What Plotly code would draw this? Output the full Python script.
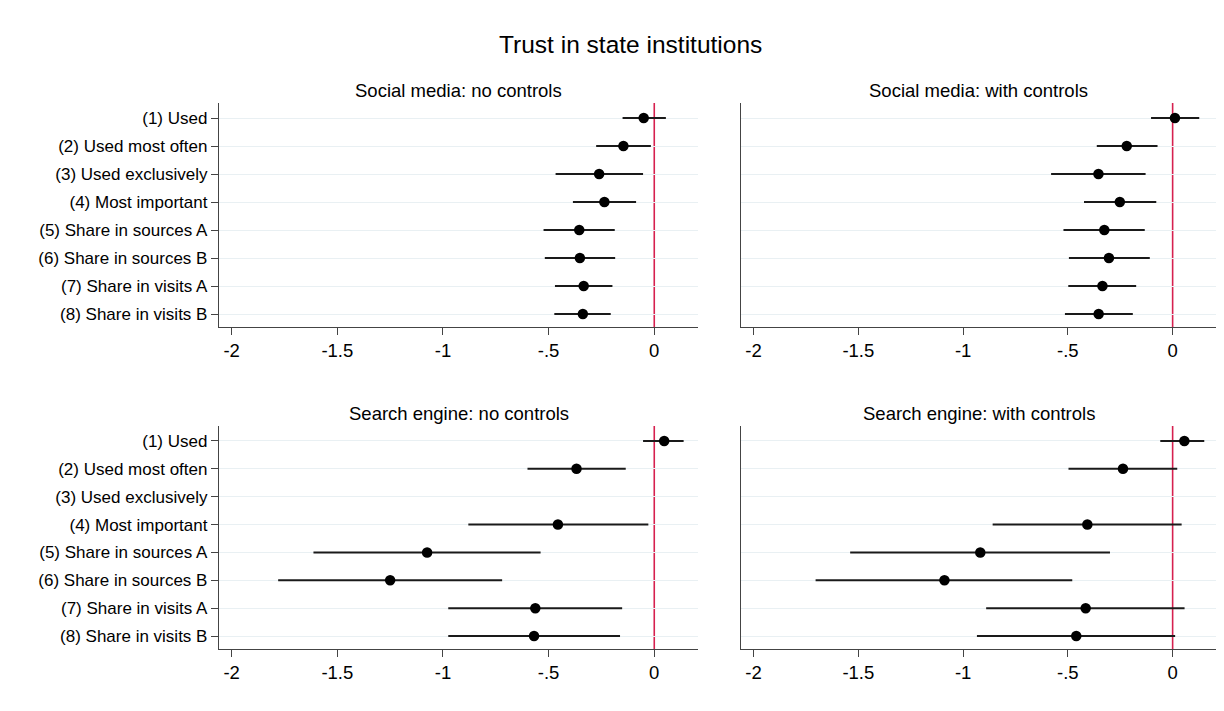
import plotly.graph_objects as go

# Outcome: trust in state institutions; coefficients with 95% confidence intervals
measures = [
    "(1) Used",
    "(2) Used most often",
    "(3) Used exclusively",
    "(4) Most important",
    "(5) Share in sources A",
    "(6) Share in sources B",
    "(7) Share in visits A",
    "(8) Share in visits B",
]
positions = [1, 2, 3, 4, 5, 6, 7, 8]

# Social media, no controls
sm_nc_coef = [-0.050, -0.146, -0.261, -0.236, -0.355, -0.352, -0.334, -0.338]
sm_nc_lo = [-0.150, -0.275, -0.467, -0.385, -0.524, -0.518, -0.470, -0.473]
sm_nc_hi = [0.055, -0.016, -0.053, -0.086, -0.187, -0.185, -0.198, -0.206]

# Social media, with controls
sm_wc_coef = [0.011, -0.219, -0.354, -0.252, -0.326, -0.304, -0.335, -0.353]
sm_wc_lo = [-0.103, -0.362, -0.580, -0.423, -0.521, -0.495, -0.498, -0.514]
sm_wc_hi = [0.127, -0.072, -0.129, -0.078, -0.133, -0.109, -0.174, -0.190]

# Search engine, no controls (no estimate for "used exclusively")
se_nc_coef = [0.047, -0.368, None, -0.456, -1.075, -1.250, -0.563, -0.569]
se_nc_lo = [-0.053, -0.600, None, -0.880, -1.613, -1.780, -0.975, -0.975]
se_nc_hi = [0.139, -0.135, None, -0.028, -0.538, -0.720, -0.152, -0.162]

# Search engine, with controls
se_wc_coef = [0.056, -0.237, None, -0.407, -0.918, -1.089, -0.415, -0.460]
se_wc_lo = [-0.059, -0.497, None, -0.859, -1.539, -1.704, -0.890, -0.934]
se_wc_hi = [0.151, 0.022, None, 0.043, -0.299, -0.479, 0.057, 0.012]

panel_titles = [
    "Social media: no controls",
    "Social media: with controls",
    "Search engine: no controls",
    "Search engine: with controls",
]
x_tickvals = [-2, -1.5, -1, -0.5, 0]
x_ticktext = ["-2", "-1.5", "-1", "-.5", "0"]

FONT = "Liberation Sans, Arial, sans-serif"
W, H = 1224, 711

# panel boxes in pixels: (left, right, top, bottom)
boxes = [
    (219, 698, 103, 327),
    (741, 1216, 103, 327),
    (219, 698, 426, 649),
    (741, 1216, 426, 649),
]
panels = [
    (sm_nc_coef, sm_nc_lo, sm_nc_hi),
    (sm_wc_coef, sm_wc_lo, sm_wc_hi),
    (se_nc_coef, se_nc_lo, se_nc_hi),
    (se_wc_coef, se_wc_lo, se_wc_hi),
]

fig = go.Figure()
layout = {}
annotations = []
shapes = []

for i, ((coef, lo, hi), (l, r, t, b), title) in enumerate(zip(panels, boxes, panel_titles)):
    n = i + 1
    xa = "x" if n == 1 else f"x{n}"
    ya = "y" if n == 1 else f"y{n}"
    plus = [None if c is None else h - c for c, h in zip(coef, hi)]
    minus = [None if c is None else c - lo_ for c, lo_ in zip(coef, lo)]
    fig.add_trace(go.Scatter(
        x=coef, y=positions, mode="markers",
        marker=dict(color="black", size=10.5),
        error_x=dict(type="data", symmetric=False, array=plus, arrayminus=minus,
                     color="#1a1a1a", thickness=2, width=0),
        xaxis=xa, yaxis=ya, showlegend=False,
    ))
    show_labels = (n % 2 == 1)
    layout[f"xaxis{'' if n == 1 else n}"] = dict(
        domain=[l / W, r / W], anchor=ya, range=[-2.06, 0.207],
        tickvals=x_tickvals, ticktext=x_ticktext, ticks="outside", ticklen=7,
        tickcolor="#444", showline=True, linecolor="#444", linewidth=1.3,
        showgrid=False, zeroline=False,
        tickfont=dict(family=FONT, size=18.5, color="black"),
    )
    layout[f"yaxis{'' if n == 1 else n}"] = dict(
        domain=[1 - b / H, 1 - t / H], anchor=xa, range=[8.464, 0.464],
        tickvals=positions, ticktext=measures if show_labels else [""] * 8,
        showticklabels=show_labels,
        ticks="outside" if show_labels else "", ticklen=7, tickcolor="#444",
        showline=True, linecolor="#444", linewidth=1.3,
        showgrid=True, gridcolor="#e9f0f3", gridwidth=1.2, zeroline=False,
        tickfont=dict(family=FONT, size=17, color="black"),
    )
    shapes.append(dict(type="line", xref=xa, yref=f"{ya} domain", x0=0, x1=0, y0=0, y1=1,
                       line=dict(color="#d6204f", width=1.6), layer="below"))
    annotations.append(dict(text=title, xref="paper", yref="paper",
                            x=(l + r) / 2 / W, y=1 - (t - 13) / H, xanchor="center",
                            yanchor="middle", showarrow=False,
                            font=dict(family=FONT, size=18.5, color="black")))

annotations.append(dict(text="Trust in state institutions", xref="paper", yref="paper",
                        x=631 / W, y=1 - 44 / H, xanchor="center", yanchor="middle",
                        showarrow=False, font=dict(family=FONT, size=24.5, color="black")))

fig.update_layout(
    width=W, height=H,
    margin=dict(l=0, r=0, t=0, b=0),
    paper_bgcolor="white", plot_bgcolor="white",
    annotations=annotations, shapes=shapes,
    **layout,
)

fig.write_html("out.html")
